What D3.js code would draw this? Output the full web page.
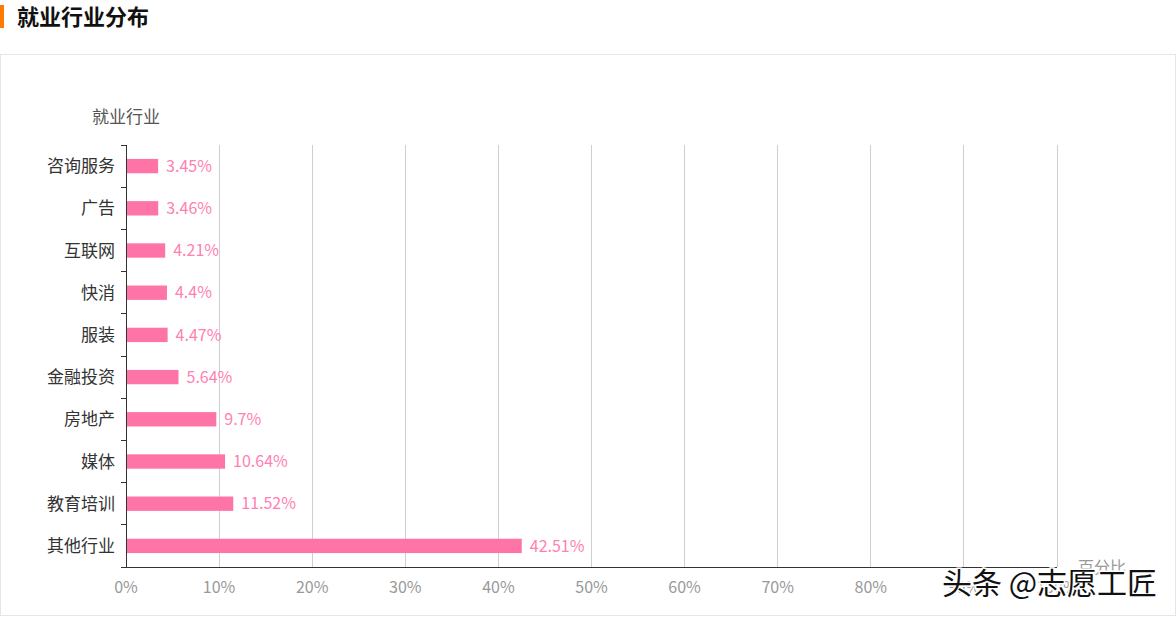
<!DOCTYPE html>
<html><head><meta charset="utf-8">
<script src="https://cdn.jsdelivr.net/npm/d3@7/dist/d3.min.js"></script>
<style>
body{margin:0;background:#fff;font-family:"Noto Sans CJK SC","Noto Sans",sans-serif;}
</style></head>
<body><svg id="c" width="1176" height="617"></svg>
<script>
const categories = ["咨询服务","广告","互联网","快消","服装","金融投资","房地产","媒体","教育培训","其他行业"];
const values = [3.45,3.46,4.21,4.4,4.47,5.64,9.7,10.64,11.52,42.51];
const xTicks = [0,10,20,30,40,50,60,70,80,90,100];
const title = "就业行业分布";
const yName = "就业行业";
const xName = "百分比";
const watermark = "头条 @志愿工匠";

(function(){
const svg = d3.select("#c");
const font = '"Noto Sans CJK SC","Noto Sans",sans-serif';

// header
svg.append("rect").attr("x",0).attr("y",5).attr("width",4).attr("height",23).attr("fill","#ff7a00");
svg.append("text").attr("x",17).attr("y",25).attr("font-size",22).attr("font-weight","bold")
  .attr("fill","#111").attr("font-family",font).text(title);
// card
svg.append("rect").attr("x",0.5).attr("y",54.5).attr("width",1175).attr("height",561)
  .attr("fill","none").attr("stroke","#e6e6e6");

const pL=126, pR=1057, pT=145, pB=567;
const x = d3.scaleLinear().domain([0,100]).range([pL,pR]);
const y = d3.scaleBand().domain(categories).range([pT,pB]).paddingInner(0.66).paddingOuter(0.33);

// grid
svg.append("g").selectAll("line").data(xTicks.slice(1)).join("line")
  .attr("x1",d=>x(d)).attr("x2",d=>x(d)).attr("y1",pT).attr("y2",pB)
  .attr("stroke","#cfcfcf").attr("stroke-width",1).attr("shape-rendering","crispEdges");

// bars
svg.append("g").selectAll("rect").data(values).join("rect")
  .attr("x",x(0)).attr("y",(d,i)=>y(categories[i]))
  .attr("width",d=>x(d)-x(0)).attr("height",y.bandwidth())
  .attr("fill","#ff74a7");

// value labels
svg.append("g").selectAll("text").data(values).join("text")
  .attr("x",d=>x(d)+8).attr("y",(d,i)=>y(categories[i])+y.bandwidth()/2)
  .attr("dy","0.36em").attr("font-size",16).attr("font-family",font)
  .attr("fill","#ff80b2").text(d=>d+"%");

// y axis
const yAxisScale = d3.scaleBand().domain(categories).range([pT,pB]);
const ya = svg.append("g");
ya.append("line").attr("x1",pL).attr("x2",pL).attr("y1",pT).attr("y2",pB)
  .attr("stroke","#333").attr("shape-rendering","crispEdges");
const bounds = categories.map(c=>yAxisScale(c)).concat([pB]);
ya.selectAll("line.t").data(bounds).join("line").attr("class","t")
  .attr("x1",pL-5).attr("x2",pL).attr("y1",d=>d).attr("y2",d=>d)
  .attr("stroke","#333").attr("shape-rendering","crispEdges");
ya.selectAll("text").data(categories).join("text")
  .attr("x",pL-11).attr("y",d=>yAxisScale(d)+yAxisScale.bandwidth()/2)
  .attr("dy","0.36em").attr("text-anchor","end").attr("font-size",17)
  .attr("font-family",font).attr("fill","#333").text(d=>d);
svg.append("text").attr("x",pL).attr("y",123).attr("text-anchor","middle")
  .attr("font-size",17).attr("font-family",font).attr("fill","#555").text(yName);

// x axis
const xa = svg.append("g");
xa.append("line").attr("x1",pL).attr("x2",pR).attr("y1",pB).attr("y2",pB)
  .attr("stroke","#333").attr("shape-rendering","crispEdges");
xa.selectAll("text").data(xTicks).join("text")
  .attr("x",d=>x(d)).attr("y",593).attr("text-anchor","middle")
  .attr("font-size",16).attr("font-family",font).attr("fill","#999").text(d=>d+"%");
svg.append("text").attr("x",1078).attr("y",pB).attr("dy","0.36em").attr("font-size",16)
  .attr("font-family",font).attr("fill","#999").text(xName);

// watermark
svg.append("text").attr("x",942).attr("y",594).attr("font-size",30)
  .attr("font-family",font).attr("fill","#111").attr("stroke","#fff").attr("stroke-width",3)
  .attr("paint-order","stroke").text(watermark);
})();
</script></body></html>
